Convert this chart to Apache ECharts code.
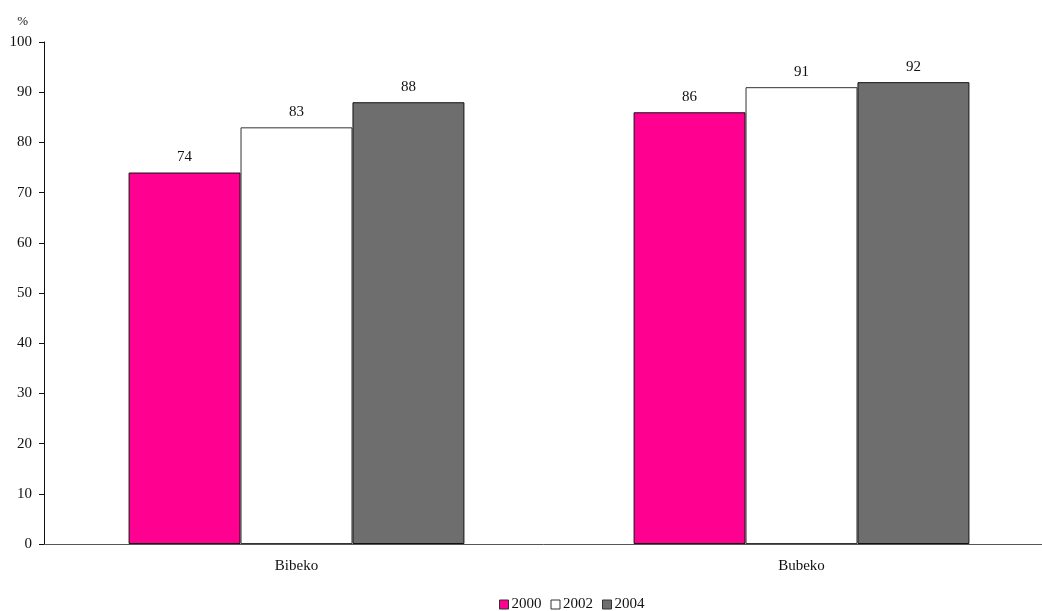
<!DOCTYPE html>
<html>
<head>
<meta charset="utf-8">
<script src="https://cdn.jsdelivr.net/npm/echarts@6/dist/echarts.min.js"></script>
<style>
html,body{margin:0;padding:0;background:#fff;}
#main{width:1042px;height:611px;}
</style>
</head>
<body>
<div id="main"></div>
<script>
var categories = ['Bibeko', 'Bubeko'];
var years = ['2000', '2002', '2004'];
var values2000 = [74, 86];
var values2002 = [83, 91];
var values2004 = [88, 92];
var yTicks = [0, 10, 20, 30, 40, 50, 60, 70, 80, 90, 100];

var font = '"Liberation Serif", "Times New Roman", serif';
var colors = ['#ff0090', '#ffffff', '#6e6e6e'];
var seriesData = [values2000, values2002, values2004];

var chart = echarts.init(document.getElementById('main'));
var series = [];
for (var i = 0; i < years.length; i++) {
    series.push({
        name: years[i],
        type: 'bar',
        data: seriesData[i],
        barGap: '0%',
        barCategoryGap: '33.5%',
        itemStyle: {color: colors[i], borderColor: i == 1 ? '#333' : '#111', borderWidth: 1},
        label: {show: true, position: 'top', distance: 8, color: '#111', fontFamily: font, fontSize: 15}
    });
}
chart.setOption({
    animation: false,
    textStyle: {fontFamily: font},
    // axis runs past the right edge, as in the original
    grid: {left: 44, width: 1010, top: 42, height: 502, containLabel: false, outerBoundsMode: 'none'},
    legend: {
        top: 592, left: 494,
        itemWidth: 9, itemHeight: 9, itemGap: 9,
        icon: 'rect',
        textStyle: {fontFamily: font, fontSize: 15, color: '#111', padding: [0, 0, 0, -2]},
        itemStyle: {borderColor: '#333', borderWidth: 1},
        data: years
    },
    xAxis: {
        type: 'category',
        data: categories,
        axisLine: {lineStyle: {color: '#555', width: 1}},
        axisTick: {show: false},
        axisLabel: {fontFamily: font, fontSize: 15, color: '#111', margin: 15}
    },
    yAxis: {
        type: 'value',
        min: yTicks[0], max: yTicks[yTicks.length - 1], interval: 10,
        name: '%', nameLocation: 'end', nameGap: 14,
        nameTextStyle: {fontFamily: font, fontSize: 13, color: '#111', align: 'right', padding: [0, 16, 0, 0]},
        axisLine: {show: true, lineStyle: {color: '#111', width: 1}},
        axisTick: {show: true, length: 5, lineStyle: {color: '#111'}},
        axisLabel: {fontFamily: font, fontSize: 15, color: '#111', margin: 12},
        splitLine: {show: false}
    },
    series: series
});
</script>
</body>
</html>
